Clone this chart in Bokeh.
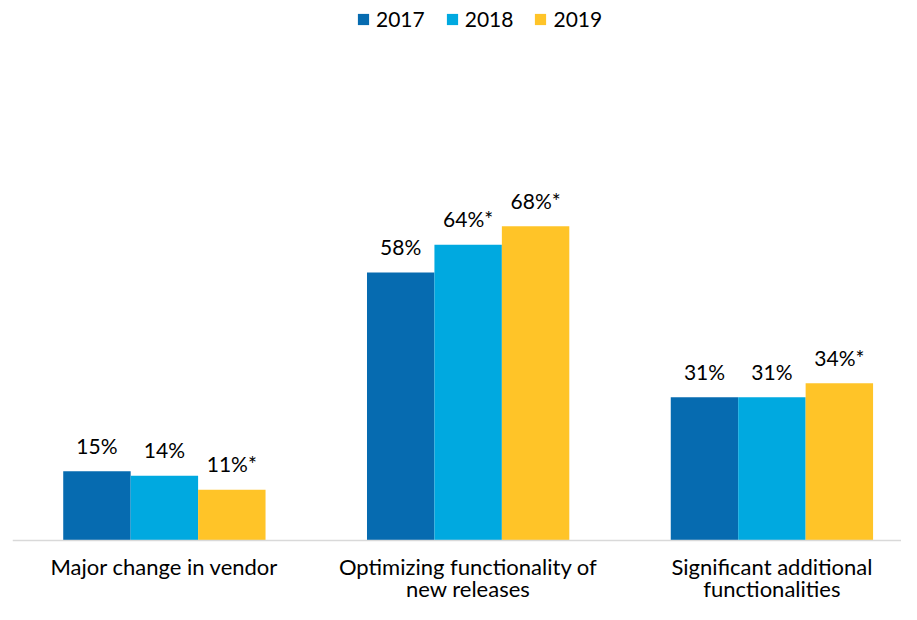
from bokeh.plotting import figure
from bokeh.models import ColumnDataSource, Range1d, Legend, LegendItem, Span
from bokeh.core.properties import value
from bokeh.embed import file_html
from bokeh.resources import INLINE

categories = ["Major change in vendor",
              "Optimizing functionality of\nnew releases",
              "Significant additional\nfunctionalities"]
years = ["2017", "2018", "2019"]
v2017 = [15, 58, 31]
v2018 = [14, 64, 31]
v2019 = [11, 68, 34]
lab2017 = ["15%", "58%", "31%"]
lab2018 = ["14%", "64%*", "31%"]
lab2019 = ["11%*", "68%*", "34%*"]
colors = ["#066BB0", "#00A9E0", "#FFC428"]

FONT = "Lato"
bar_w = 0.222
offsets = [-bar_w, 0.0, bar_w]
centers = [i + 0.5 for i in range(len(categories))]

p = figure(width=901, height=604, output_backend="svg", toolbar_location=None,
           x_range=Range1d(0, 2.9266), y_range=Range1d(-13.85, 116.83),
           min_border_left=12, min_border_right=0, min_border_top=0,
           min_border_bottom=0)
p.outline_line_color = None
p.xgrid.visible = False
p.ygrid.visible = False
p.xaxis.visible = False
p.yaxis.visible = False
p.background_fill_color = "white"
p.border_fill_color = "white"

items = []
for yr, vals, labs, col, off in zip(years, [v2017, v2018, v2019],
                                    [lab2017, lab2018, lab2019], colors, offsets):
    src = ColumnDataSource(dict(x=[c + off for c in centers], top=vals, lab=labs))
    r = p.vbar(x="x", top="top", width=bar_w, bottom=0, source=src,
               fill_color=col, line_color=None)
    p.text(x="x", y="top", text="lab", source=src, text_align="center",
           text_baseline="alphabetic", y_offset=-26,
           text_font=value(FONT), text_font_size="21px", text_color="#000000")
    items.append(LegendItem(label=yr, renderers=[r]))

# baseline (category axis line)
p.add_layout(Span(location=0, dimension="width", line_color="#D9D9D9", line_width=1.5))

# category labels (two lines each)
lines = [c.split("\n") + [""] * (2 - len(c.split("\n"))) for c in categories]
cat_src = ColumnDataSource(dict(x=centers, y=[0] * len(centers),
                                l1=[l[0] for l in lines], l2=[l[1] for l in lines]))
p.text(x="x", y="y", text="l1", source=cat_src, text_align="center",
       text_baseline="alphabetic", y_offset=26,
       text_font=value(FONT), text_font_size="22px", text_color="#000000")
p.text(x="x", y="y", text="l2", source=cat_src, text_align="center",
       text_baseline="alphabetic", y_offset=48,
       text_font=value(FONT), text_font_size="22px", text_color="#000000")

legend = Legend(items=items, orientation="horizontal", location=(344, 573),
                label_text_font=FONT, label_text_font_size="21px",
                label_text_color="#000000", glyph_width=14, glyph_height=14,
                label_standoff=6, spacing=20, padding=0, margin=0,
                border_line_color=None, background_fill_alpha=0)
p.add_layout(legend, "center")

open("out.html", "w").write(file_html(p, INLINE))
